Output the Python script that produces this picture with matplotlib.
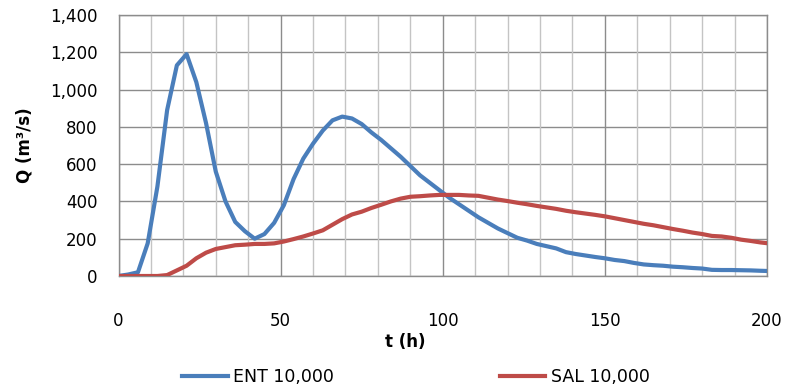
import numpy as np
import matplotlib
matplotlib.use("Agg")
from matplotlib import pyplot as plt
from matplotlib.ticker import MultipleLocator, FuncFormatter

# time axis (h), 3 h step
t = list(range(0, 200, 3)) + [200]

ent = [0, 8, 20, 175, 480, 890, 1130, 1190, 1040, 820,
       560, 400, 290, 240, 200, 225, 285, 380, 520, 630,
       710, 780, 835, 855, 845, 815, 770, 730, 685, 640,
       590, 540, 500, 460, 420, 385, 350, 315, 285, 255,
       230, 205, 190, 172, 160, 148, 128, 118, 110, 102,
       95, 86, 80, 70, 62, 58, 55, 50, 47, 43,
       40, 33, 32, 32, 31, 30, 28, 27]

sal = [0, 0, 0, 0, 0, 5, 30, 55, 95, 125,
       145, 155, 165, 168, 172, 172, 175, 185, 198, 212,
       228, 245, 275, 305, 330, 345, 365, 382, 400, 415,
       425, 428, 432, 435, 435, 435, 432, 430, 420, 410,
       402, 393, 385, 376, 368, 360, 350, 342, 335, 328,
       320, 310, 300, 290, 280, 272, 262, 252, 243, 233,
       225, 215, 212, 205, 195, 188, 180, 176]

labels = ["ENT 10,000", "SAL 10,000"]
colors = ["#4A7EBB", "#BE4B48"]


def main():
    plt.rcParams['font.family'] = ['DejaVu Sans']
    fig = plt.figure(figsize=(7.86, 3.89), dpi=100)
    ax = fig.add_axes([118.5 / 786, 1 - 276 / 389, (767 - 118.5) / 786, (276 - 15) / 389])

    l1, = ax.plot(t, ent, color=colors[0], lw=3.0, solid_joinstyle='round', zorder=3)
    l2, = ax.plot(t, sal, color=colors[1], lw=3.0, solid_joinstyle='round', zorder=3)

    ax.set_xlim(0, 200)
    ax.set_ylim(0, 1400)
    ax.xaxis.set_major_locator(MultipleLocator(50))
    ax.yaxis.set_major_locator(MultipleLocator(200))
    ax.yaxis.set_major_formatter(FuncFormatter(lambda v, p: f"{int(v):,}"))

    # grid: light minor verticals every 10 h, dark majors
    minor = [x for x in MultipleLocator(10).tick_values(0, 200) if 0 < x < 200 and x % 50]
    ax.vlines(minor, 0, 1, transform=ax.get_xaxis_transform(),
              colors='#c4c4c4', lw=1.0, zorder=1)
    ax.grid(True, which='major', color='#8c8c8c', lw=1.0, zorder=2)
    ax.set_axisbelow(True)

    ax.tick_params(which='both', length=0)
    ax.tick_params(axis='x', pad=26, labelsize=12)
    ax.tick_params(axis='y', pad=15, labelsize=12)
    for s in ax.spines.values():
        s.set_color('#8c8c8c')
        s.set_linewidth(1.0)

    ax.set_ylabel("Q (m³/s)", fontsize=12, fontweight='bold', labelpad=12)
    fig.text(405 / 786, 1 - 342 / 389, "t (h)", fontsize=12, fontweight='bold',
             ha='center', va='center')

    fig.legend([l1, l2], labels, loc='center', bbox_to_anchor=(416 / 786, 1 - 377 / 389),
               ncol=2, frameon=False, fontsize=12.5, handlelength=2.6,
               handletextpad=0.3, columnspacing=9.6)

    fig.savefig("out.png", dpi=100)


if __name__ == '__main__':
    main()
